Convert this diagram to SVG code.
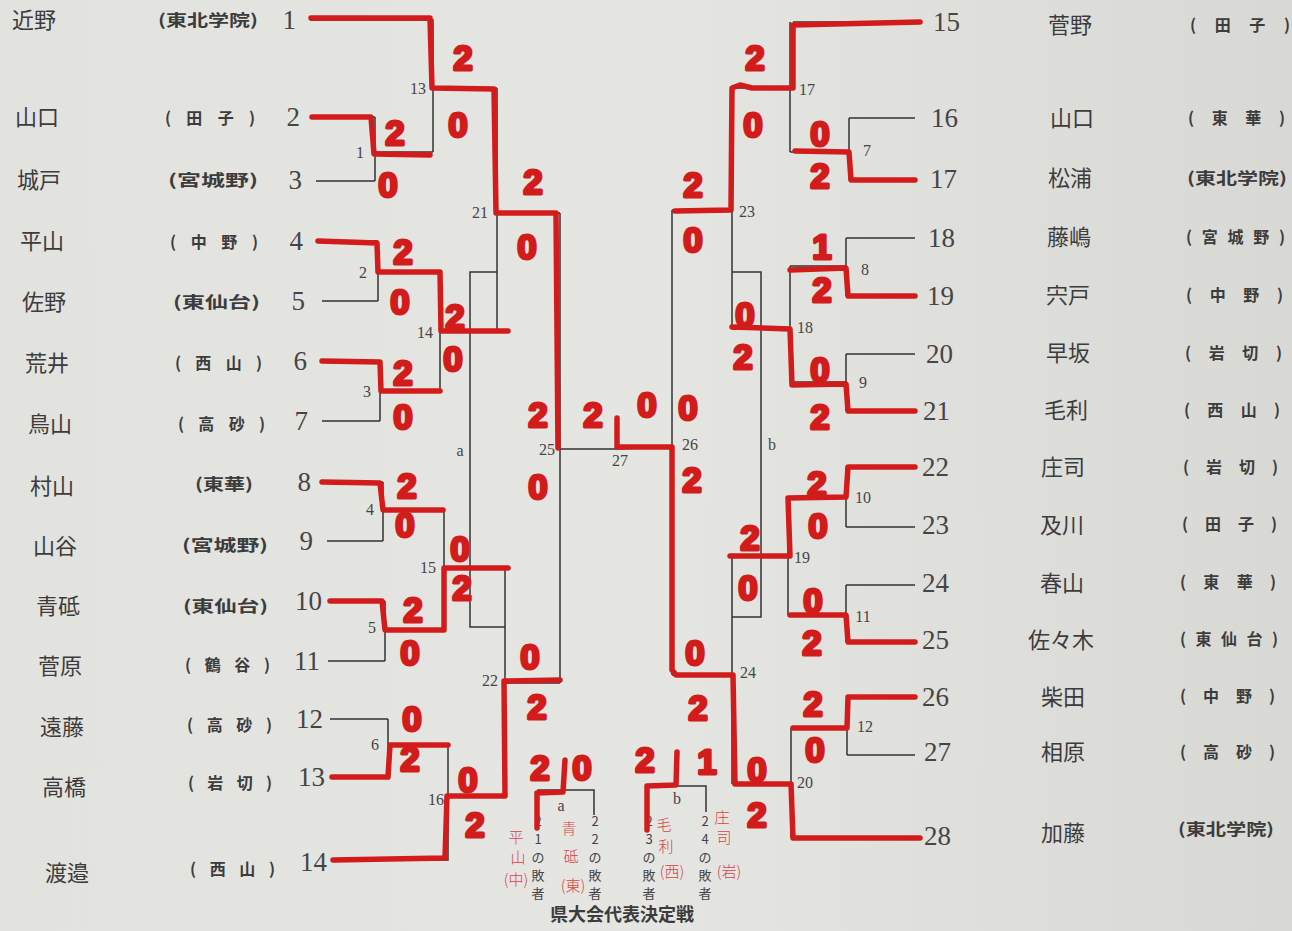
<svg xmlns="http://www.w3.org/2000/svg" width="1292" height="931" viewBox="0 0 1292 931">
<defs>
<linearGradient id="bg" x1="0" y1="0" x2="1" y2="0">
<stop offset="0" stop-color="#e2e2df"/>
<stop offset="0.5" stop-color="#e5e5e2"/>
<stop offset="1" stop-color="#d8d8d5"/>
</linearGradient>
<style>
.name{font-family:"Noto Sans CJK JP","Noto Sans CJK SC",sans-serif;font-size:22px;fill:#3c3c3c}
.school{font-family:"Noto Sans CJK JP","Noto Sans CJK SC",sans-serif;font-size:16px;font-weight:bold;fill:#3c3c3c}
.num{font-family:"Liberation Serif",serif;font-size:27px;fill:#454545}
.mno{font-family:"Liberation Serif",serif;font-size:16px;fill:#454545;text-anchor:middle}
.ln{fill:none;stroke:#333;stroke-width:1.5}
.rd{fill:none;stroke:#d21c1c;stroke-width:5.5;stroke-linecap:round;stroke-linejoin:round}
.sc{font-family:"Liberation Sans",sans-serif;font-weight:bold;font-size:35px;fill:#d21c1c;stroke:#d21c1c;stroke-width:3;stroke-linejoin:round;text-anchor:middle}
.hw{font-family:"Noto Sans CJK JP","Noto Sans CJK SC",sans-serif;font-size:15px;fill:#d64444;font-weight:300;text-anchor:middle}
.vt{font-family:"Noto Sans CJK JP","Noto Sans CJK SC",sans-serif;font-size:13px;fill:#444;text-anchor:middle}
.title{font-family:"Noto Sans CJK JP","Noto Sans CJK SC",sans-serif;font-size:18px;font-weight:bold;fill:#3c3c3c;text-anchor:middle}
</style>
</defs>
<rect x="0" y="0" width="1292" height="931" fill="url(#bg)"/>

<!-- left entries -->
<g id="p1"><text class="name" x="12" y="28">近野</text><text class="school" x="158" y="26" textLength="100" lengthAdjust="spacingAndGlyphs">(東北学院)</text><text class="num" x="296" y="29" text-anchor="end">1</text></g>
<g id="p2"><text class="name" x="15" y="125">山口</text><text class="school" x="165" y="124" textLength="90" lengthAdjust="spacing">( 田 子 )</text><text class="num" x="300" y="126" text-anchor="end">2</text></g>
<g id="p3"><text class="name" x="17" y="188">城戸</text><text class="school" x="168" y="186" textLength="90" lengthAdjust="spacingAndGlyphs">(宮城野)</text><text class="num" x="302" y="189" text-anchor="end">3</text></g>
<g id="p4"><text class="name" x="20" y="249">平山</text><text class="school" x="170" y="248" textLength="88" lengthAdjust="spacing">( 中 野 )</text><text class="num" x="303" y="250" text-anchor="end">4</text></g>
<g id="p5"><text class="name" x="22" y="310">佐野</text><text class="school" x="173" y="308" textLength="87" lengthAdjust="spacingAndGlyphs">(東仙台)</text><text class="num" x="305" y="310" text-anchor="end">5</text></g>
<g id="p6"><text class="name" x="25" y="371">荒井</text><text class="school" x="175" y="369" textLength="87" lengthAdjust="spacing">( 西 山 )</text><text class="num" x="307" y="370" text-anchor="end">6</text></g>
<g id="p7"><text class="name" x="28" y="432">鳥山</text><text class="school" x="178" y="430" textLength="87" lengthAdjust="spacing">( 高 砂 )</text><text class="num" x="308" y="430" text-anchor="end">7</text></g>
<g id="p8"><text class="name" x="30" y="494">村山</text><text class="school" x="195" y="490" textLength="58" lengthAdjust="spacingAndGlyphs">(東華)</text><text class="num" x="311" y="491" text-anchor="end">8</text></g>
<g id="p9"><text class="name" x="33" y="554">山谷</text><text class="school" x="182" y="551" textLength="86" lengthAdjust="spacingAndGlyphs">(宮城野)</text><text class="num" x="313" y="550" text-anchor="end">9</text></g>
<g id="p10"><text class="name" x="36" y="614">青砥</text><text class="school" x="183" y="612" textLength="85" lengthAdjust="spacingAndGlyphs">(東仙台)</text><text class="num" x="322" y="610" text-anchor="end">10</text></g>
<g id="p11"><text class="name" x="38" y="674">菅原</text><text class="school" x="185" y="671" textLength="85" lengthAdjust="spacing">( 鶴 谷 )</text><text class="num" x="320" y="670" text-anchor="end">11</text></g>
<g id="p12"><text class="name" x="40" y="735">遠藤</text><text class="school" x="187" y="731" textLength="85" lengthAdjust="spacing">( 高 砂 )</text><text class="num" x="323" y="728" text-anchor="end">12</text></g>
<g id="p13"><text class="name" x="42" y="795">高橋</text><text class="school" x="188" y="789" textLength="84" lengthAdjust="spacing">( 岩 切 )</text><text class="num" x="325" y="786" text-anchor="end">13</text></g>
<g id="p14"><text class="name" x="45" y="881">渡邉</text><text class="school" x="190" y="875" textLength="85" lengthAdjust="spacing">( 西 山 )</text><text class="num" x="327" y="871" text-anchor="end">14</text></g>

<!-- right entries -->
<g id="p15"><text class="num" x="933" y="31">15</text><text class="name" x="1048" y="33">菅野</text><text class="school" x="1190" y="31" textLength="100" lengthAdjust="spacing">( 田 子 )</text></g>
<g id="p16"><text class="num" x="931" y="127">16</text><text class="name" x="1050" y="126">山口</text><text class="school" x="1188" y="124" textLength="97" lengthAdjust="spacing">( 東 華 )</text></g>
<g id="p17"><text class="num" x="930" y="188">17</text><text class="name" x="1048" y="186">松浦</text><text class="school" x="1187" y="184" textLength="100" lengthAdjust="spacingAndGlyphs">(東北学院)</text></g>
<g id="p18"><text class="num" x="928" y="247">18</text><text class="name" x="1047" y="245">藤嶋</text><text class="school" x="1186" y="243" textLength="99" lengthAdjust="spacing">(宮城野)</text></g>
<g id="p19"><text class="num" x="927" y="305">19</text><text class="name" x="1046" y="303">宍戸</text><text class="school" x="1186" y="301" textLength="97" lengthAdjust="spacing">( 中 野 )</text></g>
<g id="p20"><text class="num" x="926" y="363">20</text><text class="name" x="1046" y="361">早坂</text><text class="school" x="1185" y="359" textLength="97" lengthAdjust="spacing">( 岩 切 )</text></g>
<g id="p21"><text class="num" x="923" y="420">21</text><text class="name" x="1044" y="418">毛利</text><text class="school" x="1184" y="416" textLength="96" lengthAdjust="spacing">( 西 山 )</text></g>
<g id="p22"><text class="num" x="922" y="476">22</text><text class="name" x="1041" y="475">庄司</text><text class="school" x="1183" y="473" textLength="95" lengthAdjust="spacing">( 岩 切 )</text></g>
<g id="p23"><text class="num" x="922" y="534">23</text><text class="name" x="1040" y="533">及川</text><text class="school" x="1182" y="530" textLength="95" lengthAdjust="spacing">( 田 子 )</text></g>
<g id="p24"><text class="num" x="922" y="592">24</text><text class="name" x="1040" y="591">春山</text><text class="school" x="1180" y="588" textLength="96" lengthAdjust="spacing">( 東 華 )</text></g>
<g id="p25"><text class="num" x="922" y="649">25</text><text class="name" x="1028" y="648">佐々木</text><text class="school" x="1180" y="645" textLength="98" lengthAdjust="spacing">(東仙台)</text></g>
<g id="p26"><text class="num" x="922" y="706">26</text><text class="name" x="1041" y="705">柴田</text><text class="school" x="1180" y="702" textLength="95" lengthAdjust="spacing">( 中 野 )</text></g>
<g id="p27"><text class="num" x="924" y="761">27</text><text class="name" x="1041" y="760">相原</text><text class="school" x="1180" y="758" textLength="95" lengthAdjust="spacing">( 高 砂 )</text></g>
<g id="p28"><text class="num" x="924" y="845">28</text><text class="name" x="1041" y="841">加藤</text><text class="school" x="1178" y="835" textLength="96" lengthAdjust="spacingAndGlyphs">(東北学院)</text></g>

<!-- bottom play-off labels (drawn under the red lines) -->
<g id="playoff-a">
<text class="vt"><tspan x="538" y="826">2</tspan><tspan x="538" y="844">1</tspan><tspan x="538" y="862">の</tspan><tspan x="538" y="880">敗</tspan><tspan x="538" y="898">者</tspan></text>
<text class="vt"><tspan x="595" y="826">2</tspan><tspan x="595" y="844">2</tspan><tspan x="595" y="862">の</tspan><tspan x="595" y="880">敗</tspan><tspan x="595" y="898">者</tspan></text>
<text class="hw"><tspan x="516" y="843">平</tspan><tspan x="518" y="863">山</tspan><tspan x="516" y="885">(中)</tspan></text>
<text class="hw"><tspan x="569" y="834">青</tspan><tspan x="571" y="862">砥</tspan><tspan x="573" y="891">(東)</tspan></text>
</g>
<g id="playoff-b">
<text class="vt"><tspan x="649" y="826">2</tspan><tspan x="649" y="844">3</tspan><tspan x="649" y="862">の</tspan><tspan x="649" y="880">敗</tspan><tspan x="649" y="898">者</tspan></text>
<text class="vt"><tspan x="705" y="826">2</tspan><tspan x="705" y="844">4</tspan><tspan x="705" y="862">の</tspan><tspan x="705" y="880">敗</tspan><tspan x="705" y="898">者</tspan></text>
<text class="hw"><tspan x="664" y="830">毛</tspan><tspan x="666" y="852">利</tspan><tspan x="672" y="877">(西)</tspan></text>
<text class="hw"><tspan x="722" y="823">庄</tspan><tspan x="724" y="843">司</tspan><tspan x="729" y="877">(岩)</tspan></text>
</g>
<g id="title"><text class="title" x="622" y="921">県大会代表決定戦</text></g>

<!-- black bracket lines and red winner paths -->
<g id="connectors">
<path class="ln" d="M316,117 H375 M316,181 H375 M375,117 V181 M375,152 H433"/>
<path class="ln" d="M310,20 H433 V152 M433,88 H497"/>
<path class="ln" d="M318,241 H378 M322,301 H378 M378,241 V301 M378,272 H440"/>
<path class="ln" d="M322,361 H380 M322,421 H380 M380,361 V421 M380,391 H440"/>
<path class="ln" d="M440,272 V391 M440,331 H497"/>
<path class="ln" d="M497,88 V331 M497,213 H560"/>
<path class="ln" d="M497,272 H470 V627 H505"/>
<path class="ln" d="M322,482 H383 M327,541 H383 M383,482 V541 M383,510 H444"/>
<path class="ln" d="M328,601 H385 M328,661 H385 M385,601 V661 M385,630 H444"/>
<path class="ln" d="M444,510 V630 M444,568 H505"/>
<path class="ln" d="M330,719 H388 M332,777 H388 M388,719 V777 M388,745 H448"/>
<path class="ln" d="M332,860 H448 V745 M448,795 H505"/>
<path class="ln" d="M505,568 V795 M505,683 H560"/>
<path class="ln" d="M560,213 V683 M560,449 H617 L672,447"/>
<path class="ln" d="M849,118 H915 M849,180 H915 M849,118 V180 M790,152 H849"/>
<path class="ln" d="M793,22 H920 M790,22 V152 M732,88 H790"/>
<path class="ln" d="M846,238 H915 M846,296 H915 M846,238 V296 M790,266 H846"/>
<path class="ln" d="M846,354 H915 M846,411 H915 M846,354 V411 M790,382 H846"/>
<path class="ln" d="M790,266 V382 M732,329 H790"/>
<path class="ln" d="M732,88 V329 M672,210 H732"/>
<path class="ln" d="M732,272 H761 V617 H732"/>
<path class="ln" d="M846,467 H915 M846,527 H915 M846,467 V527 M788,497 H846"/>
<path class="ln" d="M846,585 H915 M846,642 H915 M846,585 V642 M788,615 H846"/>
<path class="ln" d="M788,497 V615 M732,556 H788"/>
<path class="ln" d="M847,697 H915 M847,755 H915 M847,697 V755 M791,728 H847"/>
<path class="ln" d="M791,838 H915 M791,728 V838 M732,784 H791"/>
<path class="ln" d="M732,556 V784 M672,675 H732"/>
<path class="ln" d="M672,210 V675"/>
<path class="ln" d="M538,830 V790 H594 V815 M565,790 V770"/>
<path class="ln" d="M648,830 V786 H706 V812 M677,786 V770"/>
<path class="rd" d="M311,18 L430,18 L432,88 L494,89 L496,213 L556,213 L558,448"/>
<path class="rd" d="M312,117 L371,117 L374,154 L430,155"/>
<path class="rd" d="M318,241 L377,243 L378,272 L440,272 L441,331 L508,331"/>
<path class="rd" d="M322,361 L380,362 L381,391 L440,391"/>
<path class="rd" d="M322,482 L380,483 L383,510 L443,510"/>
<path class="rd" d="M330,601 L382,601 L385,630 L444,630 L444,568 L508,568"/>
<path class="rd" d="M332,777 L388,777 L390,745 L448,745"/>
<path class="rd" d="M333,860 L445,858 L447,796 L505,796 L504,681 L560,680"/>
<path class="rd" d="M920,22 L793,25 L793,88 L752,88 L740,85 L732,88 L731,210 L675,211"/>
<path class="rd" d="M915,180 L851,180 L849,152 L795,151"/>
<path class="rd" d="M915,296 L848,296 L846,268 L790,270"/>
<path class="rd" d="M915,411 L848,411 L846,384 L792,385 L790,329 L732,327"/>
<path class="rd" d="M915,467 L848,467 L846,497 L788,498 L790,556 L730,556"/>
<path class="rd" d="M915,642 L848,642 L846,615 L790,615"/>
<path class="rd" d="M915,697 L848,697 L847,728 L793,728"/>
<path class="rd" d="M920,838 L793,838 L791,784 L735,784 L733,675 L676,675 L672,670 L672,447 L617,447 L617,418"/>
<path class="rd" d="M537,828 L537,793 L563,792 L565,760"/>
<path class="rd" d="M647,830 L647,786 L676,785 L677,752"/>
</g>

<!-- match numbers -->
<g id="matchnos">
<text class="mno" x="360" y="158">1</text>
<text class="mno" x="418" y="94">13</text>
<text class="mno" x="363" y="278">2</text>
<text class="mno" x="425" y="338">14</text>
<text class="mno" x="367" y="397">3</text>
<text class="mno" x="480" y="218">21</text>
<text class="mno" x="460" y="456">a</text>
<text class="mno" x="547" y="455">25</text>
<text class="mno" x="370" y="515">4</text>
<text class="mno" x="428" y="573">15</text>
<text class="mno" x="372" y="633">5</text>
<text class="mno" x="490" y="686">22</text>
<text class="mno" x="375" y="750">6</text>
<text class="mno" x="436" y="805">16</text>
<text class="mno" x="620" y="466">27</text>
<text class="mno" x="807" y="95">17</text>
<text class="mno" x="867" y="156">7</text>
<text class="mno" x="747" y="217">23</text>
<text class="mno" x="865" y="275">8</text>
<text class="mno" x="805" y="333">18</text>
<text class="mno" x="863" y="388">9</text>
<text class="mno" x="690" y="450">26</text>
<text class="mno" x="772" y="450">b</text>
<text class="mno" x="863" y="503">10</text>
<text class="mno" x="802" y="563">19</text>
<text class="mno" x="863" y="622">11</text>
<text class="mno" x="748" y="678">24</text>
<text class="mno" x="865" y="732">12</text>
<text class="mno" x="805" y="788">20</text>
<text class="mno" x="561" y="811">a</text>
<text class="mno" x="677" y="804">b</text>
</g>

<!-- scores -->
<g id="scores">
<text class="sc" x="463" y="70">2</text>
<text class="sc" x="458" y="137">0</text>
<text class="sc" x="395" y="145">2</text>
<text class="sc" x="388" y="197">0</text>
<text class="sc" x="533" y="194">2</text>
<text class="sc" x="527" y="259">0</text>
<text class="sc" x="403" y="264">2</text>
<text class="sc" x="400" y="314">0</text>
<text class="sc" x="455" y="329">2</text>
<text class="sc" x="453" y="371">0</text>
<text class="sc" x="403" y="385">2</text>
<text class="sc" x="403" y="429">0</text>
<text class="sc" x="538" y="427">2</text>
<text class="sc" x="593" y="427">2</text>
<text class="sc" x="538" y="499">0</text>
<text class="sc" x="407" y="498">2</text>
<text class="sc" x="405" y="537">0</text>
<text class="sc" x="460" y="561">0</text>
<text class="sc" x="462" y="600">2</text>
<text class="sc" x="413" y="622">2</text>
<text class="sc" x="410" y="665">0</text>
<text class="sc" x="530" y="669">0</text>
<text class="sc" x="537" y="719">2</text>
<text class="sc" x="412" y="731">0</text>
<text class="sc" x="410" y="771">2</text>
<text class="sc" x="468" y="792">0</text>
<text class="sc" x="475" y="837">2</text>
<text class="sc" x="540" y="780">2</text>
<text class="sc" x="582" y="780">0</text>
<text class="sc" x="647" y="417">0</text>
<text class="sc" x="688" y="420">0</text>
<text class="sc" x="692" y="492">2</text>
<text class="sc" x="755" y="70">2</text>
<text class="sc" x="753" y="137">0</text>
<text class="sc" x="820" y="146">0</text>
<text class="sc" x="820" y="188">2</text>
<text class="sc" x="693" y="197">2</text>
<text class="sc" x="693" y="252">0</text>
<text class="sc" x="822" y="259">1</text>
<text class="sc" x="822" y="302">2</text>
<text class="sc" x="745" y="327">0</text>
<text class="sc" x="743" y="369">2</text>
<text class="sc" x="820" y="382">0</text>
<text class="sc" x="820" y="429">2</text>
<text class="sc" x="817" y="496">2</text>
<text class="sc" x="818" y="538">0</text>
<text class="sc" x="750" y="550">2</text>
<text class="sc" x="748" y="600">0</text>
<text class="sc" x="813" y="613">0</text>
<text class="sc" x="812" y="655">2</text>
<text class="sc" x="695" y="665">0</text>
<text class="sc" x="698" y="720">2</text>
<text class="sc" x="813" y="716">2</text>
<text class="sc" x="815" y="762">0</text>
<text class="sc" x="757" y="782">0</text>
<text class="sc" x="757" y="827">2</text>
<text class="sc" x="645" y="772">2</text>
<text class="sc" x="707" y="774">1</text>
</g>
</svg>
